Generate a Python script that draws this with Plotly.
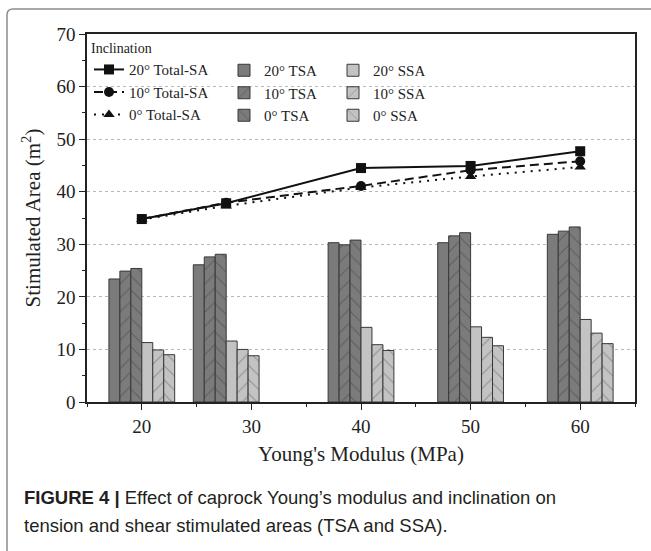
import plotly.graph_objects as go

# Young's modulus of the caprock (MPa) for each simulated case
modulus = [20, 27.7, 40, 50, 60]
modulus_ticks = [20, 30, 40, 50, 60]

# Total stimulated area (m^2) per inclination
total_20 = [34.8, 37.8, 44.5, 44.9, 47.7]
total_10 = [34.8, 37.9, 41.1, 44.1, 45.8]
total_0 = [34.7, 37.3, 40.8, 42.9, 44.7]

# Tension stimulated area (m^2)
tsa_20 = [23.4, 26.1, 30.3, 30.3, 31.9]
tsa_10 = [24.9, 27.6, 29.9, 31.6, 32.5]
tsa_0 = [25.4, 28.1, 30.8, 32.2, 33.3]

# Shear stimulated area (m^2)
ssa_20 = [11.3, 11.6, 14.2, 14.3, 15.7]
ssa_10 = [9.9, 10.0, 10.9, 12.3, 13.1]
ssa_0 = [9.0, 8.8, 9.8, 10.7, 11.1]

W, H = 651, 551
ML, MR, MT, MB = 87, 16, 34, 149
PW, PH = W - ML - MR, H - MT - MB


def px(x):
    return (x - ML) / PW


def py(y):
    return (H - MB - y) / PH


SERIF = "Liberation Serif, Times New Roman, serif"
SANS = "Liberation Sans, Arial, sans-serif"
DARK = "#7b7b7b"
LIGHT = "#c3c3c3"
EDGE = "#383838"

fig = go.Figure()

bar_specs = [
    ("20° TSA", tsa_20, DARK, "", -3, "legend2"),
    ("10° TSA", tsa_10, DARK, "/", -2, "legend2"),
    ("0° TSA", tsa_0, DARK, "\\", -1, "legend2"),
    ("20° SSA", ssa_20, LIGHT, "", 0, "legend3"),
    ("10° SSA", ssa_10, LIGHT, "/", 1, "legend3"),
    ("0° SSA", ssa_0, LIGHT, "\\", 2, "legend3"),
]
for name, vals, col, shape, off, leg in bar_specs:
    fig.add_trace(go.Bar(
        x=modulus, y=vals, name=name, width=1.0, offset=off, legend=leg,
        marker=dict(
            color=col,
            line=dict(color=EDGE, width=1),
            pattern=dict(shape=shape, fgcolor="#3c3c3c" if col == DARK else "#5a5a5a",
                         bgcolor=col, size=10, solidity=0.1),
        ),
    ))

line_specs = [
    ("20° Total-SA", total_20, "solid", "square"),
    ("10° Total-SA", total_10, "9px,5px", "circle"),
    ("0° Total-SA", total_0, "2px,6px", "triangle-up"),
]
for name, vals, dash, sym in line_specs:
    fig.add_trace(go.Scatter(
        x=modulus, y=vals, name=name, mode="lines+markers", legend="legend",
        line=dict(color="#111111", width=2, dash=dash),
        marker=dict(symbol=sym, size=10, color="#111111"),
    ))

axis_common = dict(
    showline=True, linecolor="#222222", linewidth=1.5, mirror=True,
    ticks="outside", ticklen=6, tickwidth=1.2, tickcolor="#222222",
    tickfont=dict(family=SERIF, size=19, color="#222222"),
    zeroline=False,
)

fig.update_xaxes(
    range=[15, 65], tickvals=modulus_ticks, showgrid=False,
    minor=dict(ticks="outside", ticklen=3, dtick=5, tick0=0, tickcolor="#222222"),
    title=dict(text="Young's Modulus (MPa)", font=dict(family=SERIF, size=21, color="#222222"),
               standoff=11),
    **axis_common,
)
fig.update_yaxes(
    range=[0, 70], dtick=10, tick0=0,
    showgrid=True, gridcolor="#b8b8b8", griddash="dot", gridwidth=1,
    minor=dict(ticks="outside", ticklen=3, dtick=5, tick0=0, tickcolor="#222222"),
    title=dict(text="Stimulated Area (m<sup>2</sup>)", font=dict(family=SERIF, size=21, color="#222222"),
               standoff=10),
    **axis_common,
)

legend_common = dict(
    orientation="v", xanchor="left", yanchor="top",
    bgcolor="rgba(0,0,0,0)", borderwidth=0,
    font=dict(family=SERIF, size=15, color="#222222"),
    tracegroupgap=0, itemwidth=30,
)

fig.update_layout(
    width=W, height=H,
    margin=dict(l=ML, r=MR, t=MT, b=MB),
    paper_bgcolor="white", plot_bgcolor="white",
    barmode="overlay",
    legend=dict(x=px(89), y=py(35),
                title=dict(text="Inclination", side="top",
                           font=dict(family=SERIF, size=14, color="#222222")),
                **legend_common),
    legend2=dict(x=px(224), y=py(54), **legend_common),
    legend3=dict(x=px(333), y=py(54), **legend_common),
    annotations=[
        dict(text="<b>FIGURE 4 |</b> Effect of caprock Young’s modulus and inclination on",
             xref="paper", yref="paper", x=px(22), y=py(497), xanchor="left", yanchor="middle",
             showarrow=False, font=dict(family=SANS, size=18.5, color="#231f20")),
        dict(text="tension and shear stimulated areas (TSA and SSA).",
             xref="paper", yref="paper", x=px(22), y=py(525), xanchor="left", yanchor="middle",
             showarrow=False, font=dict(family=SANS, size=18.5, color="#231f20")),
    ],
    shapes=[
        dict(type="path", xref="paper", yref="paper",
             path=f"M {px(7)} {py(560)} L {px(7)} {py(15)} Q {px(7)} {py(9)} {px(13)} {py(9)} L {px(660)} {py(9)}",
             line=dict(color="#8c8c8c", width=1.5)),
    ],
)

fig.write_html("out.html")
